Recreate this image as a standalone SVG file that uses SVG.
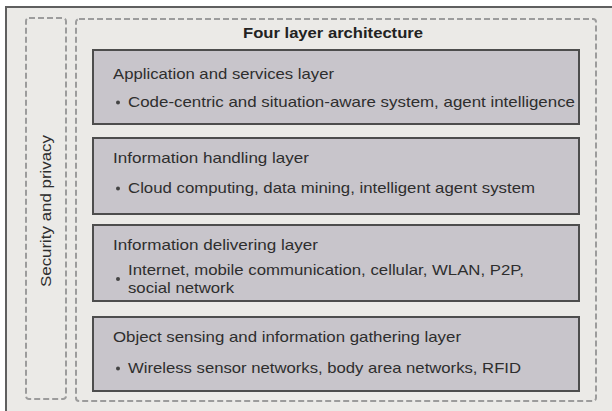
<svg xmlns="http://www.w3.org/2000/svg" width="612" height="411" viewBox="0 0 612 411">
<style>
.frame{fill:#ebeae7;stroke:#5f5f5f;stroke-width:2}
.dash{fill:none;stroke:#9c9c9c;stroke-width:2;stroke-dasharray:6 3}
.layer{fill:#c8c5cb;stroke:#4d4d4d;stroke-width:2}
.t{font-family:"Liberation Sans",Arial,sans-serif;font-size:15px;fill:#2e2e2e}
.title{font-family:"Liberation Sans",Arial,sans-serif;font-size:14px;font-weight:bold;fill:#222}
.bullet{fill:#444}
</style>
<rect class="frame" x="6" y="7" width="610" height="410"/>
<g id="security">
<rect class="dash" x="26" y="18" width="40" height="381" rx="3"/>
<text class="t" transform="translate(51,287) rotate(-90)" textLength="152" lengthAdjust="spacingAndGlyphs">Security and privacy</text>
</g>
<g id="four-layer">
<rect class="dash" x="76" y="19" width="520" height="382" rx="3"/>
<text class="title" x="243" y="38" textLength="180" lengthAdjust="spacingAndGlyphs">Four layer architecture</text>
</g>
<g id="application">
<rect class="layer" x="93" y="50" width="486" height="74"/>
<text class="t" x="113" y="79" textLength="221" lengthAdjust="spacingAndGlyphs">Application and services layer</text>
<circle class="bullet" cx="118" cy="102.5" r="2"/>
<text class="t" x="128" y="107" textLength="447" lengthAdjust="spacingAndGlyphs">Code-centric and situation-aware system, agent intelligence</text>
</g>
<g id="handling">
<rect class="layer" x="93" y="138" width="486" height="76"/>
<text class="t" x="113" y="163" textLength="196" lengthAdjust="spacingAndGlyphs">Information handling layer</text>
<circle class="bullet" cx="118" cy="188.5" r="2"/>
<text class="t" x="128" y="193" textLength="407" lengthAdjust="spacingAndGlyphs">Cloud computing, data mining, intelligent agent system</text>
</g>
<g id="delivering">
<rect class="layer" x="93" y="225" width="486" height="76"/>
<text class="t" x="113" y="250" textLength="205" lengthAdjust="spacingAndGlyphs">Information delivering layer</text>
<circle class="bullet" cx="118" cy="279" r="2"/>
<text class="t" x="128" y="275" textLength="396" lengthAdjust="spacingAndGlyphs">Internet, mobile communication, cellular, WLAN, P2P,</text>
<text class="t" x="128" y="293" textLength="106" lengthAdjust="spacingAndGlyphs">social network</text>
</g>
<g id="sensing">
<rect class="layer" x="93" y="317" width="486" height="74"/>
<text class="t" x="113" y="342" textLength="348" lengthAdjust="spacingAndGlyphs">Object sensing and information gathering layer</text>
<circle class="bullet" cx="118" cy="368.5" r="2"/>
<text class="t" x="128" y="373" textLength="393" lengthAdjust="spacingAndGlyphs">Wireless sensor networks, body area networks, RFID</text>
</g>
<g id="connectors"></g>
</svg>
